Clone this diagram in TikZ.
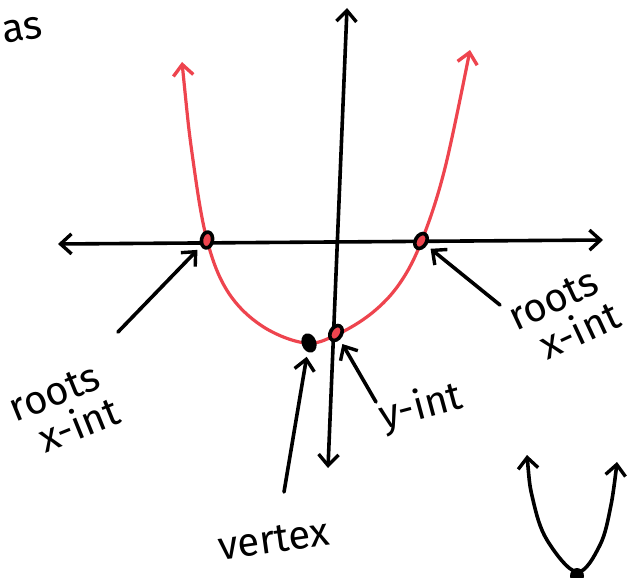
\documentclass[tikz,border=0pt]{standalone}
\usepackage{fontspec}
\usepackage{graphicx}
\setmainfont{Fira Sans}
\usetikzlibrary{arrows.meta,shapes.geometric}
\definecolor{pred}{RGB}{238,68,78}
\newcommand{\twolines}[2]{\begin{tabular}{@{}l@{}}#1\\[-6pt]\hspace{16pt}#2\end{tabular}}
\begin{document}
\begin{tikzpicture}[x=1pt,y=-1pt,
  barb/.tip={Straight Barb[length=11pt,width=20pt,line width=3.4pt]},
  ax/.style={line width=3.6pt, line cap=round, barb-barb},
  redcurve/.style={line width=3.2pt, line cap=round, pred, barb-barb},
  lab/.style={line width=3.6pt, line cap=round, -barb, shorten >=5pt},
  dot/.style={ellipse, draw=black, fill=pred, line width=3.6pt, minimum width=11pt, minimum height=16pt, inner sep=0pt},
  hand/.style={font=\fontsize{40}{46}\selectfont, inner sep=0pt}]
\useasboundingbox (0,0) rectangle (640,578);
% axes
\coordinate (xl) at (58,244);
\coordinate (xr) at (603,240);
\coordinate (yt) at (347,8);
\coordinate (yb) at (328,468);
\draw[ax] (xl) -- (xr);
\draw[ax] (yb) -- (yt);
% parabola
\draw[redcurve] plot[smooth, tension=0.6] coordinates {(182,62) (193,160) (207,240) (228,292) (262,326) (305,343) (336,335) (372,313) (400,283) (422,240) (445,168) (470,50)};
% dots
\node[dot, rotate=-10] (r1) at (207,240) {};
\node[dot, rotate=-30] (r2) at (421,241) {};
\node[dot, fill=black, rotate=20] (v) at (309,343) {};
\node[dot, rotate=-30] (yi) at (336,333) {};
% labels
\node[hand] (as) at (22,30) {\rotatebox{10}{as}};
\node[hand] (lroots) at (66,414) {\rotatebox{22}{\twolines{roots}{x-int}}};
\node[hand] (rroots) at (566,320) {\rotatebox{25}{\twolines{roots}{x-int}}};
\node[hand] (yint) at (421,408) {\rotatebox{15}{y-int}};
\node[hand] (vert) at (274,540) {\rotatebox{8}{vertex}};
% label arrows
\coordinate (a1) at (118,332);
\coordinate (a2) at (500,305);
\coordinate (a3) at (284,492);
\coordinate (a4) at (376,402);
\draw[lab] (a1) -- (r1);
\draw[lab] (a2) -- (r2);
\draw[lab] (a3) -- (v);
\draw[lab] (a4) -- (yi);
% small parabola
\draw[line width=3.6pt, line cap=round, barb-barb] plot[smooth, tension=0.6] coordinates {(527,455) (533,500) (547,540) (577,572) (600,545) (611,505) (617,462)};
\node[ellipse, fill=black, minimum width=14pt, minimum height=16pt, inner sep=0pt] (sv) at (577,576) {};
\end{tikzpicture}
\end{document}
